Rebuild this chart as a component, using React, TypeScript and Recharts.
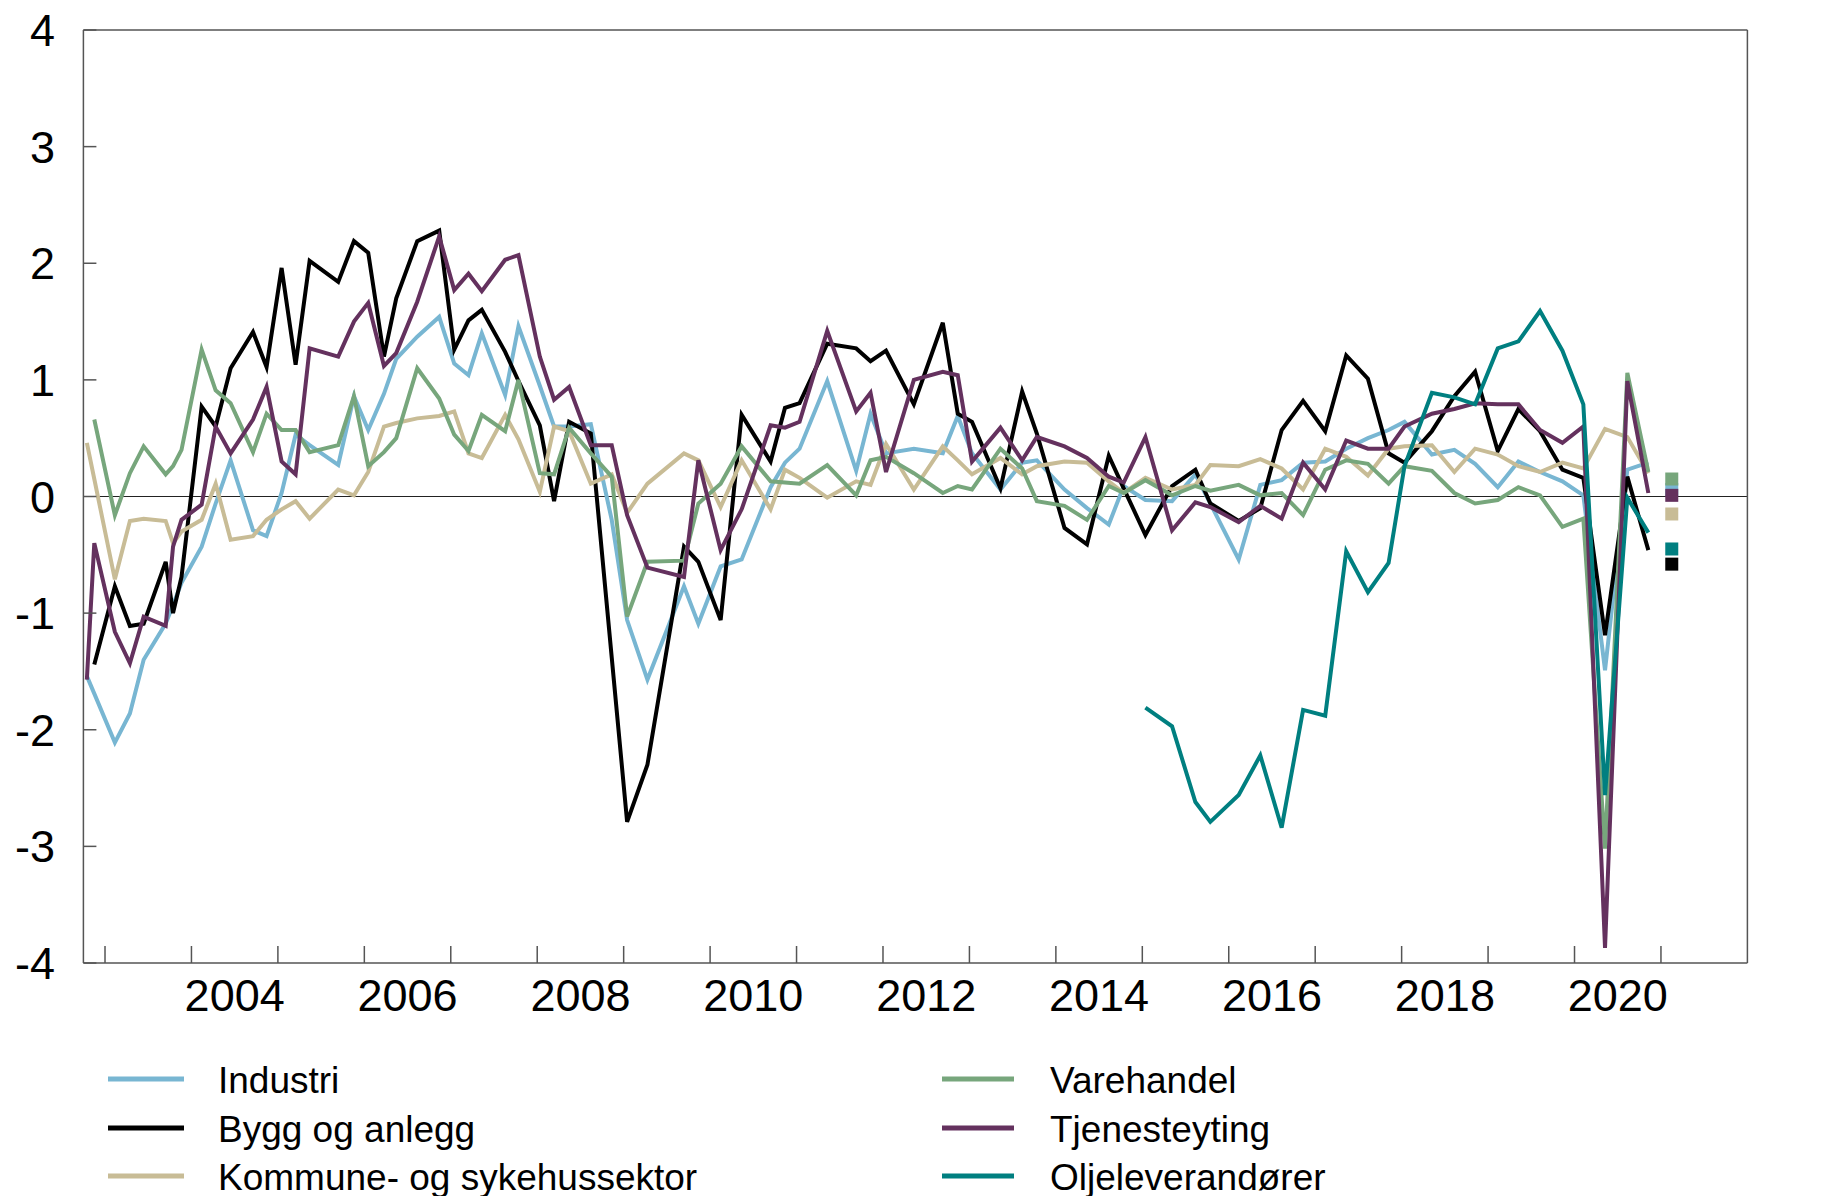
import React from 'react';
import { ComposedChart, Line, XAxis, YAxis, ReferenceLine } from 'recharts';

// Survey dates (decimal years)
const dates = [
  2002.79, 2002.876, 2003.114, 2003.288, 2003.447, 2003.702, 2003.787, 2003.885,
  2004.118, 2004.28, 2004.453, 2004.712, 2004.869, 2005.043, 2005.205, 2005.367,
  2005.698, 2005.88, 2006.045, 2006.227, 2006.369, 2006.612, 2006.866, 2007.04,
  2007.205, 2007.359, 2007.629, 2007.783, 2008.03, 2008.195, 2008.369, 2008.62,
  2008.862, 2009.04, 2009.275, 2009.698, 2009.864, 2010.122, 2010.365, 2010.7,
  2010.866, 2011.035, 2011.355, 2011.69, 2011.856, 2012.035, 2012.357, 2012.692,
  2012.865, 2013.03, 2013.359, 2013.61, 2013.78, 2014.1, 2014.36, 2014.612,
  2014.785, 2015.036, 2015.344, 2015.614, 2015.787, 2016.115, 2016.365, 2016.612,
  2016.86, 2017.116, 2017.359, 2017.61, 2017.849, 2018.033, 2018.35, 2018.61,
  2018.85, 2019.112, 2019.351, 2019.601, 2019.86, 2020.102, 2020.353, 2020.611,
  2020.854,
];

const industri = [
  -1.54, -1.69, -2.11, -1.86, -1.40, -1.09, -0.93, -0.74,
  -0.43, -0.06, 0.31, -0.29, -0.34, 0.03, 0.53, 0.44,
  0.27, 0.86, 0.57, 0.88, 1.18, 1.37, 1.54, 1.14,
  1.04, 1.40, 0.87, 1.46, 0.95, 0.60, 0.60, 0.62,
  -0.20, -1.06, -1.57, -0.77, -1.09, -0.60, -0.54, 0.08,
  0.29, 0.41, 0.99, 0.22, 0.71, 0.37, 0.41, 0.37,
  0.69, 0.37, 0.06, 0.29, 0.31, 0.06, -0.10, -0.24,
  0.09, -0.03, -0.04, 0.19, -0.06, -0.54, 0.10, 0.14,
  0.29, 0.30, 0.41, 0.50, 0.57, 0.64, 0.36, 0.40,
  0.28, 0.08, 0.30, 0.21, 0.13, 0.01, -1.49, 0.23,
  0.29,
];

const bygg = [
  null, -1.44, -0.77, -1.11, -1.09, -0.56, -1.0, -0.69,
  0.77, 0.60, 1.10, 1.41, 1.11, 1.96, 1.13, 2.02,
  1.84, 2.19, 2.09, 1.20, 1.70, 2.19, 2.28, 1.26,
  1.51, 1.60, 1.24, 0.99, 0.61, -0.04, 0.64, 0.54,
  -1.38, -2.79, -2.30, -0.43, -0.56, -1.06, 0.70, 0.30,
  0.76, 0.80, 1.31, 1.27, 1.16, 1.25, 0.79, 1.49,
  0.71, 0.64, 0.07, 0.90, 0.54, -0.27, -0.41, 0.35,
  0.07, -0.33, 0.09, 0.23, -0.06, -0.21, -0.10, 0.57,
  0.82, 0.56, 1.21, 1.01, 0.37, 0.29, 0.56, 0.86,
  1.07, 0.39, 0.75, 0.56, 0.23, 0.16, -1.19, 0.17,
  -0.46,
];

const kommune = [
  0.46, 0.15, -0.71, -0.21, -0.19, -0.21, -0.40, -0.30,
  -0.20, 0.11, -0.37, -0.34, -0.20, -0.11, -0.04, -0.19,
  0.06, 0.01, 0.21, 0.60, 0.63, 0.67, 0.69, 0.73,
  0.37, 0.33, 0.70, 0.49, 0.04, 0.60, 0.56, 0.11,
  0.19, -0.14, 0.11, 0.37, 0.31, -0.09, 0.31, -0.11,
  0.23, 0.16, -0.01, 0.13, 0.10, 0.45, 0.06, 0.43,
  0.31, 0.19, 0.33, 0.19, 0.26, 0.30, 0.29, 0.13,
  0.03, 0.16, 0.06, 0.10, 0.27, 0.26, 0.32, 0.24,
  0.06, 0.41, 0.34, 0.18, 0.41, 0.43, 0.44, 0.21,
  0.41, 0.36, 0.26, 0.21, 0.29, 0.24, 0.58, 0.51,
  0.20,
];

const varehandel = [
  null, 0.66, -0.16, 0.20, 0.43, 0.19, 0.26, 0.40,
  1.26, 0.91, 0.80, 0.38, 0.71, 0.57, 0.57, 0.38,
  0.44, 0.86, 0.26, 0.38, 0.50, 1.10, 0.84, 0.53,
  0.39, 0.70, 0.56, 1.00, 0.20, 0.19, 0.59, 0.37,
  0.17, -1.03, -0.56, -0.55, -0.06, 0.11, 0.43, 0.13,
  0.12, 0.11, 0.27, 0.01, 0.31, 0.34, 0.20, 0.03,
  0.09, 0.06, 0.41, 0.24, -0.04, -0.08, -0.20, 0.09,
  0.03, 0.14, 0.01, 0.09, 0.05, 0.10, 0.01, 0.03,
  -0.16, 0.23, 0.31, 0.28, 0.11, 0.26, 0.22, 0.03,
  -0.06, -0.03, 0.08, 0.01, -0.26, -0.19, -3.02, 1.06,
  0.21,
];

const tjeneste = [
  -1.57, -0.40, -1.16, -1.43, -1.03, -1.11, -0.43, -0.20,
  -0.07, 0.60, 0.37, 0.66, 0.94, 0.30, 0.19, 1.27,
  1.20, 1.50, 1.66, 1.12, 1.23, 1.67, 2.23, 1.77,
  1.91, 1.76, 2.03, 2.07, 1.20, 0.83, 0.94, 0.44,
  0.44, -0.16, -0.61, -0.69, 0.31, -0.46, -0.11, 0.61,
  0.59, 0.64, 1.42, 0.73, 0.89, 0.21, 1.00, 1.07,
  1.04, 0.30, 0.59, 0.31, 0.51, 0.43, 0.33, 0.17,
  0.12, 0.51, -0.29, -0.05, -0.09, -0.22, -0.08, -0.19,
  0.29, 0.06, 0.48, 0.41, 0.41, 0.60, 0.71, 0.75,
  0.80, 0.79, 0.79, 0.57, 0.46, 0.60, -3.87, 0.99,
  0.03,
];

const olje = [
  null, null, null, null, null, null, null, null,
  null, null, null, null, null, null, null, null,
  null, null, null, null, null, null, null, null,
  null, null, null, null, null, null, null, null,
  null, null, null, null, null, null, null, null,
  null, null, null, null, null, null, null, null,
  null, null, null, null, null, null, null, null,
  null, -1.81, -1.97, -2.62, -2.79, -2.56, -2.22, -2.84,
  -1.83, -1.88, -0.47, -0.82, -0.57, 0.26, 0.89, 0.85,
  0.79, 1.27, 1.33, 1.59, 1.25, 0.79, -2.56, -0.01,
  -0.31,
];

// Expectations, next quarter (square markers)
const expDate = 2021.125;
const expIndustri = 0.06;
const expBygg = -0.58;
const expKommune = -0.15;
const expVarehandel = 0.15;
const expTjeneste = 0.01;
const expOlje = -0.45;

const yTicks = [-4, -3, -2, -1, 0, 1, 2, 3, 4];
const xTicks = [2003, 2004, 2005, 2006, 2007, 2008, 2009, 2010, 2011, 2012, 2013, 2014, 2015, 2016, 2017, 2018, 2019, 2020, 2021];

const C_IND = '#78B6D2';
const C_BYGG = '#000000';
const C_KOM = '#C8BC96';
const C_VARE = '#77A67C';
const C_TJEN = '#64315E';
const C_OLJE = '#007F80';

const W = 1832;
const H = 1196;
const PL = 83.4;
const PR = 1747.4;
const PT = 30;
const PB = 963;
const X0 = 2002.75;
const X1 = 2022;
const PXY = (PR - PL) / (X1 - X0);
const FONT = '"Liberation Sans", Arial, Helvetica, sans-serif';
const AXC = '#555555';
const AXW = 1; // axis band size used by recharts

const data: any[] = dates.map((t, i) => ({
  t,
  ind: industri[i],
  bygg: bygg[i],
  kom: kommune[i],
  vare: varehandel[i],
  tjen: tjeneste[i],
  olje: olje[i],
}));
data.push({
  t: expDate,
  indE: expIndustri,
  byggE: expBygg,
  komE: expKommune,
  vareE: expVarehandel,
  tjenE: expTjeneste,
  oljeE: expOlje,
});

const XTick = (props: any) => {
  const { x, payload } = props;
  const yr = payload.value;
  return (
    <g>
      <line x1={x} x2={x} y1={PB} y2={PB - 17} stroke={AXC} strokeWidth={1.5} />
      {yr % 2 === 0 ? (
        <text x={x + PXY / 2} y={995 + 16} textAnchor="middle" fontSize={45} fontFamily={FONT} fill="#000">
          {yr}
        </text>
      ) : null}
    </g>
  );
};

const YTickL = (props: any) => {
  const { y, payload } = props;
  return (
    <g>
      <line x1={PL} x2={PL + 13} y1={y} y2={y} stroke={AXC} strokeWidth={1.5} />
      <text x={55} y={y + 16} textAnchor="end" fontSize={45} fontFamily={FONT} fill="#000">
        {payload.value}
      </text>
    </g>
  );
};

const YTickR = (props: any) => {
  const { y, payload } = props;
  return (
    <g>
      <line x1={PR - 13} x2={PR} y1={y} y2={y} stroke={AXC} strokeWidth={1.5} />
      <text x={1816} y={y + 16} textAnchor="end" fontSize={45} fontFamily={FONT} fill="#000">
        {payload.value}
      </text>
    </g>
  );
};

const squareDot = (color: string) => (props: any) => {
  const { cx, cy, value, index } = props;
  if (cx == null || cy == null || value == null || Number.isNaN(cy)) return <g key={`e-${index}`} />;
  return <rect key={`e-${index}`} x={cx - 6.5} y={cy - 6.5} width={13} height={13} fill={color} />;
};

const legendLeft = [
  { name: 'Industri', color: C_IND },
  { name: 'Bygg og anlegg', color: C_BYGG },
  { name: 'Kommune- og sykehussektor', color: C_KOM },
];
const legendRight = [
  { name: 'Varehandel', color: C_VARE },
  { name: 'Tjenesteyting', color: C_TJEN },
  { name: 'Oljeleverandører', color: C_OLJE },
];
const legendRows = [1079, 1128, 1176];

const LegendSvg = () => (
  <svg width={W} height={H} style={{ position: 'absolute', left: 0, top: 0, pointerEvents: 'none' }}>
    {legendLeft.map((it, i) => (
      <g key={it.name}>
        <line x1={108} x2={184} y1={legendRows[i]} y2={legendRows[i]} stroke={it.color} strokeWidth={5} />
        <text x={218} y={legendRows[i] + 13.5} fontSize={37} fontFamily={FONT} fill="#000">
          {it.name}
        </text>
      </g>
    ))}
    {legendRight.map((it, i) => (
      <g key={it.name}>
        <line x1={942} x2={1014} y1={legendRows[i]} y2={legendRows[i]} stroke={it.color} strokeWidth={5} />
        <text x={1050} y={legendRows[i] + 13.5} fontSize={37} fontFamily={FONT} fill="#000">
          {it.name}
        </text>
      </g>
    ))}
  </svg>
);

export default function App() {
  const lw = 4;
  return (
    <div style={{ position: 'absolute', left: 0, top: 0, width: W, height: H, background: '#fff' }}>
      <ComposedChart
        width={W}
        height={H}
        data={data}
        margin={{ top: PT, right: W - PR - AXW, bottom: H - PB - AXW, left: PL - AXW }}
      >
        <XAxis
          type="number"
          dataKey="t"
          domain={[X0, X1]}
          ticks={xTicks}
          interval={0}
          allowDataOverflow
          height={AXW}
          tickLine={false}
          tick={<XTick />}
          axisLine={{ stroke: AXC, strokeWidth: 1.5 }}
        />
        <YAxis
          yAxisId="l"
          domain={[-4, 4]}
          ticks={yTicks}
          interval={0}
          width={AXW}
          tickLine={false}
          tick={<YTickL />}
          axisLine={{ stroke: AXC, strokeWidth: 1.5 }}
        />
        <YAxis
          yAxisId="r"
          orientation="right"
          domain={[-4, 4]}
          ticks={yTicks}
          interval={0}
          width={AXW}
          tickLine={false}
          tick={<YTickR />}
          axisLine={{ stroke: AXC, strokeWidth: 1.5 }}
        />
        <ReferenceLine yAxisId="l" y={4} stroke={AXC} strokeWidth={1.5} />
        <ReferenceLine yAxisId="l" y={0} stroke="#222" strokeWidth={1.2} />

        <Line yAxisId="l" type="linear" dataKey="ind" stroke={C_IND} strokeWidth={lw} dot={false} isAnimationActive={false} />
        <Line yAxisId="l" type="linear" dataKey="bygg" stroke={C_BYGG} strokeWidth={lw} dot={false} isAnimationActive={false} />
        <Line yAxisId="l" type="linear" dataKey="kom" stroke={C_KOM} strokeWidth={lw} dot={false} isAnimationActive={false} />
        <Line yAxisId="l" type="linear" dataKey="vare" stroke={C_VARE} strokeWidth={lw} dot={false} isAnimationActive={false} />
        <Line yAxisId="l" type="linear" dataKey="tjen" stroke={C_TJEN} strokeWidth={lw} dot={false} isAnimationActive={false} />
        <Line yAxisId="l" type="linear" dataKey="olje" stroke={C_OLJE} strokeWidth={lw} dot={false} isAnimationActive={false} />

        <Line yAxisId="l" dataKey="indE" stroke="none" dot={squareDot(C_IND)} activeDot={false} isAnimationActive={false} />
        <Line yAxisId="l" dataKey="vareE" stroke="none" dot={squareDot(C_VARE)} activeDot={false} isAnimationActive={false} />
        <Line yAxisId="l" dataKey="tjenE" stroke="none" dot={squareDot(C_TJEN)} activeDot={false} isAnimationActive={false} />
        <Line yAxisId="l" dataKey="komE" stroke="none" dot={squareDot(C_KOM)} activeDot={false} isAnimationActive={false} />
        <Line yAxisId="l" dataKey="oljeE" stroke="none" dot={squareDot(C_OLJE)} activeDot={false} isAnimationActive={false} />
        <Line yAxisId="l" dataKey="byggE" stroke="none" dot={squareDot(C_BYGG)} activeDot={false} isAnimationActive={false} />
      </ComposedChart>
      <LegendSvg />
    </div>
  );
}
